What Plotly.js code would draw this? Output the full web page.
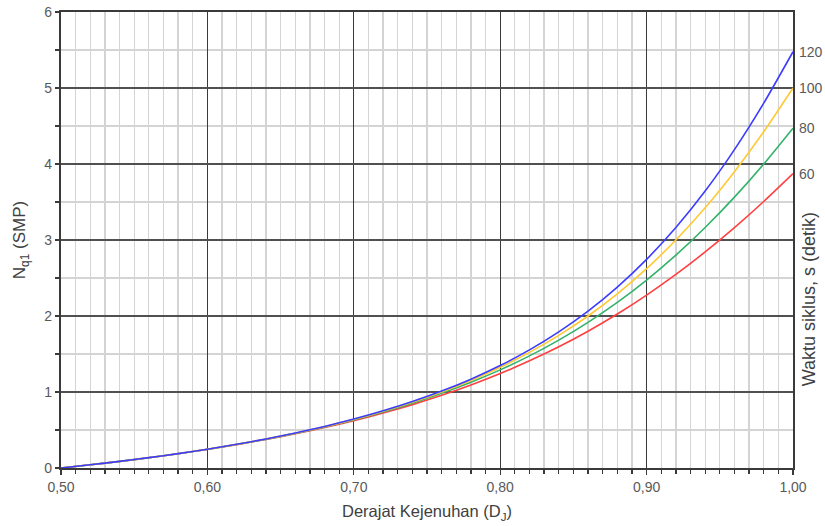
<!DOCTYPE html>
<html>
<head>
<meta charset="utf-8">
<script src="https://cdn.plot.ly/plotly-3.0.1.min.js"></script>
<style>html,body{margin:0;padding:0;background:#fff;}#chart{width:825px;height:526px;}</style>
</head>
<body>
<div id="chart"></div>
<script>
// Derajat kejenuhan (x)
var dj = [0.50,0.52,0.54,0.56,0.58,0.60,0.62,0.64,0.66,0.68,0.70,0.72,0.74,0.76,0.78,0.80,0.82,0.84,0.86,0.88,0.90,0.92,0.94,0.96,0.98,1.00];
// NQ1 for each cycle time
var nq60  = [0,0.042,0.086,0.135,0.188,0.245,0.308,0.376,0.451,0.533,0.623,0.723,0.834,0.956,1.092,1.243,1.410,1.595,1.800,2.026,2.275,2.547,2.843,3.163,3.507,3.873];
var nq80  = [0,0.042,0.087,0.135,0.188,0.246,0.309,0.379,0.455,0.540,0.633,0.737,0.853,0.983,1.128,1.291,1.475,1.683,1.916,2.178,2.472,2.800,3.164,3.564,4.000,4.472];
var nq100 = [0,0.042,0.087,0.136,0.189,0.247,0.311,0.381,0.458,0.544,0.639,0.746,0.865,1.000,1.152,1.325,1.521,1.745,2.000,2.292,2.623,3.000,3.424,3.899,4.424,5.000];
var nq120 = [0,0.042,0.087,0.136,0.189,0.247,0.312,0.382,0.460,0.547,0.644,0.752,0.874,1.012,1.169,1.348,1.554,1.791,2.064,2.380,2.745,3.164,3.644,4.189,4.800,5.477];
var cycleLabels = ["60","80","100","120"];
var xTickVals = [0.50,0.60,0.70,0.80,0.90,1.00];
var yTickVals = [0,1,2,3,4,5,6];

var series = [nq60, nq80, nq100, nq120];
var colors = ["#ff4040","#33b26b","#ffc933","#3c3cff"];

var traces = series.map(function(s, i){
  return {x: dj, y: s, type: 'scatter', mode: 'lines', name: cycleLabels[i],
          line: {color: colors[i], width: 1.6, shape: 'spline', smoothing: 0.6}, hoverinfo: 'skip'};
});

var annotations = series.map(function(s, i){
  return {x: dj[dj.length-1], y: s[s.length-1], xref: 'x', yref: 'y', text: cycleLabels[i],
          showarrow: false, xanchor: 'left', yanchor: 'middle', xshift: 4,
          font: {family: 'Liberation Sans, Arial, sans-serif', size: 14, color: '#595959'}};
});
annotations.push({x: 1, xref: 'paper', xshift: 16, y: 0.37, yref: 'paper', text: 'Waktu siklus, s (detik)',
  textangle: -90, showarrow: false, xanchor: 'center', yanchor: 'middle',
  font: {family: 'Liberation Sans, Arial, sans-serif', size: 18, color: '#404040'}});

var layout = {
  width: 825, height: 526,
  margin: {l: 61, r: 32, t: 12, b: 58},
  paper_bgcolor: '#ffffff', plot_bgcolor: '#ffffff',
  showlegend: false,
  separators: ', ',
  font: {family: 'Liberation Sans, Arial, sans-serif', color: '#595959', size: 14},
  xaxis: {
    range: [0.5, 1.0], tickvals: xTickVals, tickformat: '.2f',
    showgrid: true, gridcolor: '#3a3a3a', gridwidth: 1.3,
    zeroline: false, showline: true, linecolor: '#3a3a3a', linewidth: 1.8, mirror: true,
    ticks: 'outside', ticklen: 5, tickcolor: '#3a3a3a', tickwidth: 1.3,
    tickfont: {size: 14, color: '#595959'},
    minor: {dtick: 0.01, tick0: 0.5, showgrid: true, gridcolor: '#d4d4d4', gridwidth: 1.3,
            ticks: 'outside', ticklen: 4, tickcolor: '#3a3a3a', tickwidth: 1.3},
    title: {text: 'Derajat Kejenuhan (D<sub>J</sub>)', standoff: 12, font: {size: 16.5, color: '#404040'}}
  },
  yaxis: {
    range: [0, 6], tickvals: yTickVals,
    showgrid: true, gridcolor: '#505050', gridwidth: 1.8,
    zeroline: false, showline: true, linecolor: '#3a3a3a', linewidth: 2.2, mirror: true,
    ticks: 'outside', ticklen: 4, tickcolor: '#3a3a3a', tickwidth: 1.5,
    tickfont: {size: 14, color: '#595959'},
    minor: {dtick: 0.5, tick0: 0, showgrid: true, gridcolor: '#d4d4d4', gridwidth: 1.3,
            ticks: 'outside', ticklen: 4, tickcolor: '#3a3a3a', tickwidth: 1.5},
    title: {text: 'N<sub>q1</sub> (SMP)', standoff: 14, font: {size: 17, color: '#404040'}}
  },
  annotations: annotations
};

Plotly.newPlot('chart', traces, layout, {displayModeBar: false, staticPlot: true});
</script>
</body>
</html>
